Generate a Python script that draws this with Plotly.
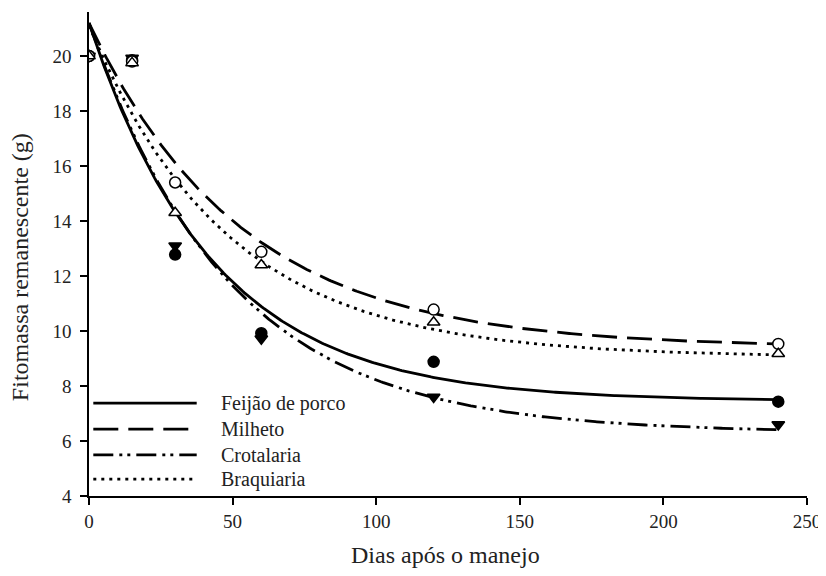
import numpy as np
import plotly.graph_objects as go

# Observed data (days after management)
days = [0, 15, 30, 60, 120, 240]
feijao = [20.0, 19.85, 12.78, 9.92, 8.88, 7.43]
milheto = [20.0, 19.8, 15.4, 12.88, 10.78, 9.53]
crotalaria = [20.0, 19.93, 13.1, 9.72, 7.6, 6.6]
braquiaria = [20.0, 19.75, 14.3, 12.4, 10.32, 9.17]

series_names = ["Feijão de porco", "Milheto", "Crotalaria", "Braquiaria"]
series_values = [feijao, milheto, crotalaria, braquiaria]

# Fitted exponential decay y = c + A*exp(-k*t) for each series
fit_c = [7.45, 9.4, 6.3, 9.05]
fit_A = [13.75, 11.8, 14.9, 12.05]
fit_k = [0.0231, 0.0188, 0.0205, 0.0207]

x_ticks = [0, 50, 100, 150, 200, 250]
y_ticks = [4, 6, 8, 10, 12, 14, 16, 18, 20]
x_title = "Dias após o manejo"
y_title = "Fitomassa remanescente (g)"

dashes = ["solid", "25px,10px", "20px,6px,3px,5px,3px,6px", "3px,5px"]
symbols = ["circle", "circle", "triangle-down", "triangle-up"]
fills = ["black", "white", "black", "white"]
draw_order = [0, 2, 1, 3]

FONT = "Liberation Serif"
TXT = "#222"

fig = go.Figure()
t = np.linspace(0, 240, 400)
for i, name in enumerate(series_names):
    y = fit_c[i] + fit_A[i] * np.exp(-fit_k[i] * t)
    fig.add_trace(go.Scatter(x=t, y=y, mode="lines", name=name, showlegend=False,
                             line=dict(color="black", width=2.8, dash=dashes[i])))
for i in draw_order:
    fig.add_trace(go.Scatter(x=days, y=series_values[i], mode="markers", showlegend=False,
                             name=series_names[i],
                             marker=dict(symbol=symbols[i], size=11, color=fills[i],
                                         line=dict(color="black", width=1.5))))

# Manual legend (long line samples as in the original)
leg_y = [0.192, 0.138, 0.085, 0.035]
for i, name in enumerate(series_names):
    fig.add_shape(type="line", xref="paper", yref="paper", x0=0.006, x1=0.150,
                  y0=leg_y[i], y1=leg_y[i],
                  line=dict(color="black", width=2.8, dash=dashes[i]))
    fig.add_annotation(xref="paper", yref="paper", x=0.181, y=leg_y[i], text=name,
                       showarrow=False, xanchor="left", yanchor="middle",
                       font=dict(family=FONT, size=20, color=TXT))

# Axis titles
fig.add_annotation(xref="paper", yref="paper", x=0.497, y=-0.122, text=x_title,
                   showarrow=False, xanchor="center", yanchor="middle",
                   font=dict(family=FONT, size=24, color=TXT))
fig.add_annotation(xref="paper", yref="paper", x=-0.096, y=0.473, text=y_title,
                   showarrow=False, xanchor="center", yanchor="middle", textangle=-90,
                   font=dict(family=FONT, size=24, color=TXT))

axis_common = dict(showline=True, linecolor="black", linewidth=1.5, ticks="outside",
                   ticklen=7, tickwidth=1.5, tickcolor="black", showgrid=False, zeroline=False,
                   ticklabeloverflow="allow", automargin=False,
                   tickfont=dict(family=FONT, size=19, color=TXT))

# page body has an 8px default margin, so the figure is made slightly smaller
fig.update_layout(
    width=818, height=560,
    margin=dict(l=81, r=19, t=4, b=72, autoexpand=False),
    plot_bgcolor="white", paper_bgcolor="white",
    font=dict(family=FONT, color=TXT),
    xaxis=dict(range=[0, 250], tickvals=x_ticks, **axis_common),
    yaxis=dict(range=[4, 21.6], tickvals=y_ticks, ticklabelstandoff=5, **axis_common),
)

fig.write_html("out.html")
